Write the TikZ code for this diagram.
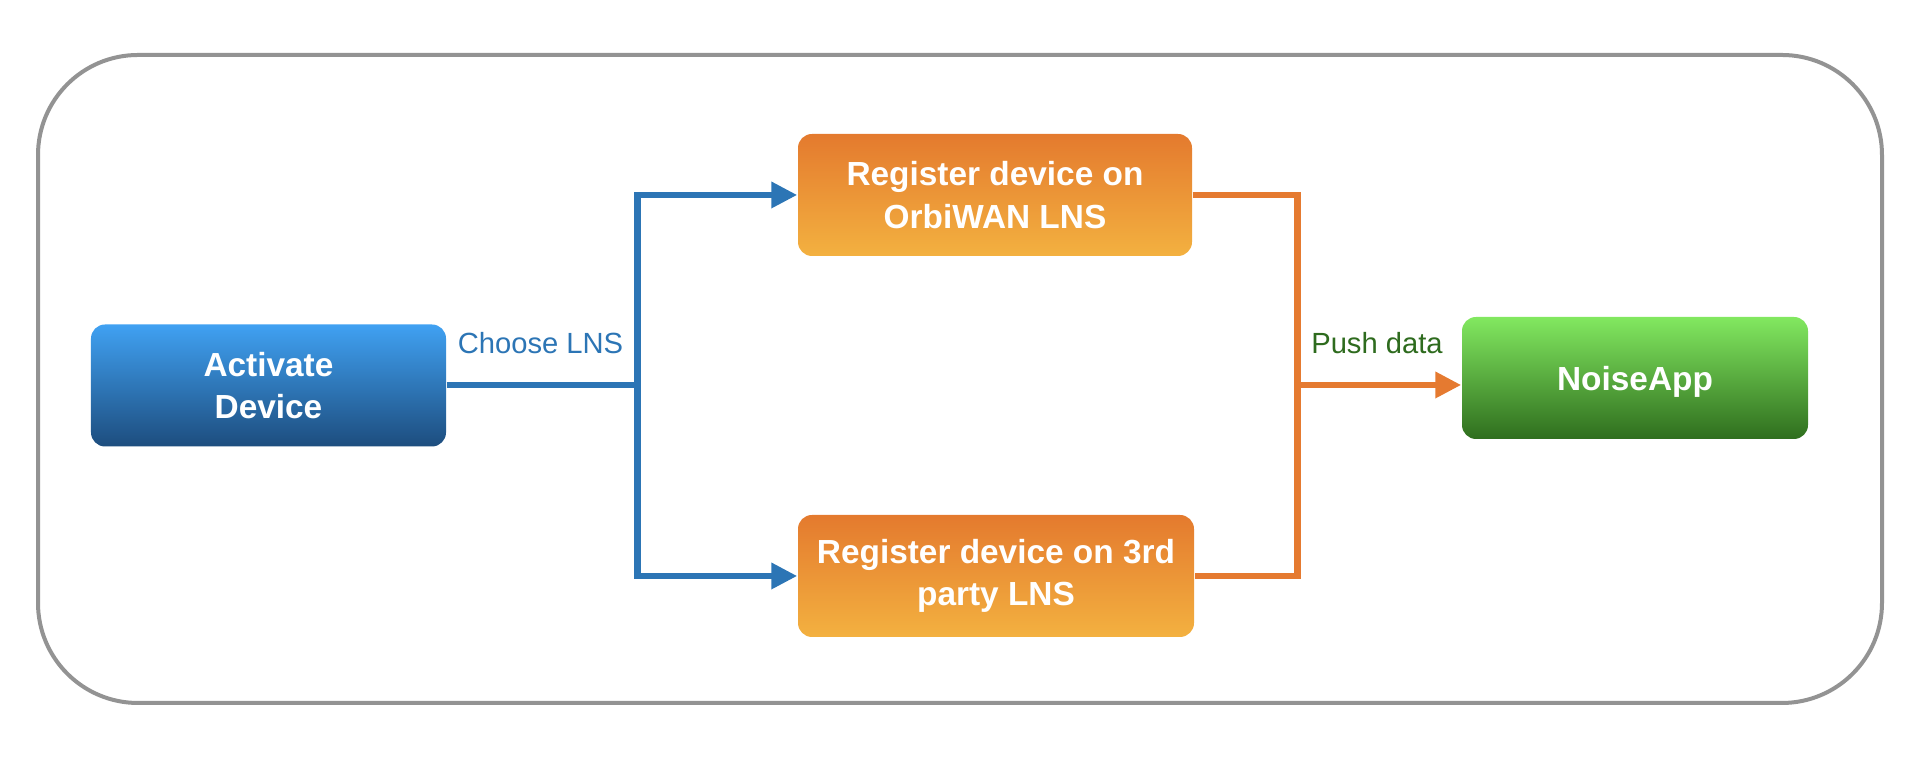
\documentclass[tikz,border=0pt]{standalone}
\usepackage{fontspec}
\setmainfont{Liberation Sans}
\usepackage{xcolor}
\usepackage{tikz}
\usetikzlibrary{arrows.meta}

\definecolor{framegray}{HTML}{939393}
\definecolor{lnblue}{HTML}{2C75B5}
\definecolor{lnorange}{HTML}{E57A30}
\definecolor{txgreen}{HTML}{2E6B1E}
\definecolor{bluetop}{HTML}{40A1F2}
\definecolor{bluebot}{HTML}{1D4D7E}
\definecolor{orangetop}{HTML}{E47A2E}
\definecolor{orangebot}{HTML}{F3B140}
\definecolor{greentop}{HTML}{82E860}
\definecolor{greenbot}{HTML}{2F6E1E}

\tikzset{
  box/.style={rounded corners=0.14cm, inner sep=0pt, align=center, text=white,
    minimum height=1.22cm, font=\fontsize{9.5}{12}\selectfont\bfseries},
  bluebox/.style={box, top color=bluetop, bottom color=bluebot},
  orangebox/.style={box, top color=orangetop, bottom color=orangebot},
  greenbox/.style={box, top color=greentop, bottom color=greenbot},
  lbl/.style={font=\fontsize{8.3}{10}\selectfont},
  wire/.style={line width=0.065cm},
  tip/.style={-{Triangle[length=0.26cm,width=0.25cm]}}
}

\begin{document}
\begin{tikzpicture}
\useasboundingbox (0,0) rectangle (19.24,7.6);
  % frame
  \draw[framegray, line width=0.04cm, rounded corners=1.0cm] (0.38,0.57) rectangle (18.82,7.05);
  % boxes
  \node[bluebox, minimum width=3.55cm] (act) at (2.685,3.745) {Activate\\Device};
  \node[orangebox, minimum width=3.94cm] (orbi) at (9.95,5.65) {Register device on\\OrbiWAN LNS};
  \node[orangebox, minimum width=3.96cm] (third) at (9.96,1.84) {Register device on 3rd\\party LNS};
  \node[greenbox, minimum width=3.46cm, text depth=0pt] (noise) at (16.35,3.82) {NoiseApp};
      \coordinate (bjoin) at (6.375,3.75);
      \coordinate (ojoin) at (12.975,3.75);
  % choose
  \draw[wire, lnblue] (act.east |- bjoin) -- (bjoin);
  \draw[wire, lnblue, tip] (bjoin) |- (orbi.west);
  \draw[wire, lnblue, tip] (bjoin) |- (third.west);
  \node[lbl, text=lnblue] (choose) at (5.405,4.17) {Choose LNS};
  % push
  \draw[wire, lnorange] (orbi.east) -| (ojoin) |- (third.east);
  \draw[wire, lnorange, tip] (ojoin) -- (ojoin -| noise.west);
  \node[lbl, text=txgreen] (push) at (13.77,4.17) {Push data};
\end{tikzpicture}
\end{document}
